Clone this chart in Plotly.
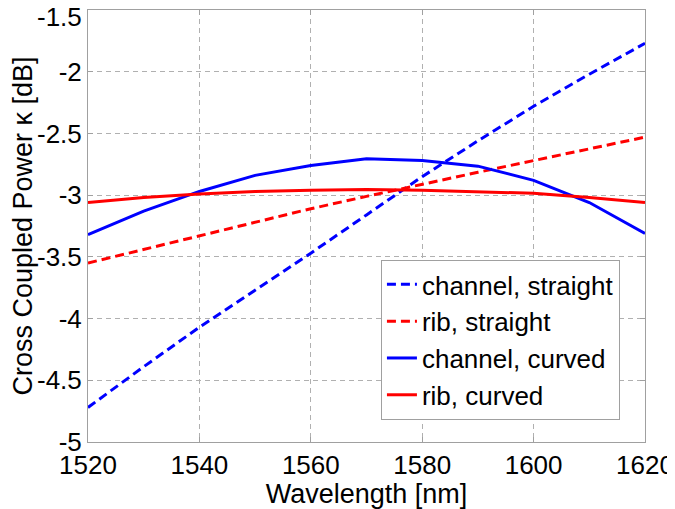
import plotly.graph_objects as go

wavelength = [1520, 1530, 1540, 1550, 1560, 1570, 1580, 1590, 1600, 1610, 1620]
channel_straight = [-4.72, -4.39, -4.07, -3.77, -3.47, -3.16, -2.85, -2.56, -2.28, -2.02, -1.77]
rib_straight = [-3.55, -3.44, -3.33, -3.22, -3.11, -3.01, -2.91, -2.815, -2.72, -2.625, -2.53]
channel_curved = [-3.32, -3.13, -2.97, -2.84, -2.76, -2.705, -2.72, -2.765, -2.88, -3.06, -3.31]
rib_curved = [-3.06, -3.02, -2.99, -2.97, -2.96, -2.955, -2.96, -2.97, -2.985, -3.02, -3.06]

x_ticks = [1520, 1540, 1560, 1580, 1600, 1620]
y_ticks = [-5, -4.5, -4, -3.5, -3, -2.5, -2, -1.5]
y_ticktext = ["-5", "-4.5", "-4", "-3.5", "-3", "-2.5", "-2", ""]
top_tick_value = -1.5
top_tick_text = "-1.5"

series = [
    ("channel, straight", channel_straight, "#0000ff", "9px,5px"),
    ("rib, straight", rib_straight, "#ff0000", "9px,5px"),
    ("channel, curved", channel_curved, "#0000ff", "solid"),
    ("rib, curved", rib_curved, "#ff0000", "solid"),
]

fig = go.Figure()
for name, vals, color, dash in series:
    fig.add_trace(go.Scatter(
        x=wavelength, y=vals, mode="lines", name=name,
        line=dict(color=color, width=3, dash=dash),
    ))

font = "Liberation Sans, Arial, Helvetica, sans-serif"
axis_common = dict(
    showline=True, linecolor="#a0a0a0", linewidth=1, mirror="ticks",
    ticks="inside", ticklen=5, tickcolor="#a0a0a0",
    showgrid=True, gridcolor="#b0b0b0", gridwidth=1, griddash="5px,4px",
    zeroline=False, automargin=False, ticklabeloverflow="allow",
    tickfont=dict(family=font, size=26, color="black"),
)

# the top tick label sits slightly below the top edge, as in the reference
fig.add_annotation(
    x=0, xref="paper", xanchor="right", xshift=-4,
    y=top_tick_value, yref="y", yanchor="middle", yshift=-7,
    text=top_tick_text, showarrow=False,
    font=dict(family=font, size=26, color="black"),
)

# the page body adds an 8px margin, so the figure is sized to fit the 675x509 window
fig.update_layout(
    width=667, height=501,
    margin=dict(l=80, r=30, t=2, b=67),
    paper_bgcolor="white", plot_bgcolor="white",
    font=dict(family=font, color="black"),
    xaxis=dict(range=[1520, 1620], tickvals=x_ticks,
               title=dict(text="Wavelength [nm]", font=dict(family=font, size=27), standoff=4),
               **axis_common),
    yaxis=dict(range=[-5, -1.5], tickvals=y_ticks, ticktext=y_ticktext,
               title=dict(text="Cross Coupled Power κ [dB]", font=dict(family=font, size=27), standoff=6),
               **axis_common),
    legend=dict(
        x=0.955, y=0.051, xanchor="right", yanchor="bottom",
        bgcolor="white", bordercolor="#a0a0a0", borderwidth=1,
        font=dict(family=font, size=26, color="black"),
    ),
    showlegend=True,
)

fig.write_html("out.html")
